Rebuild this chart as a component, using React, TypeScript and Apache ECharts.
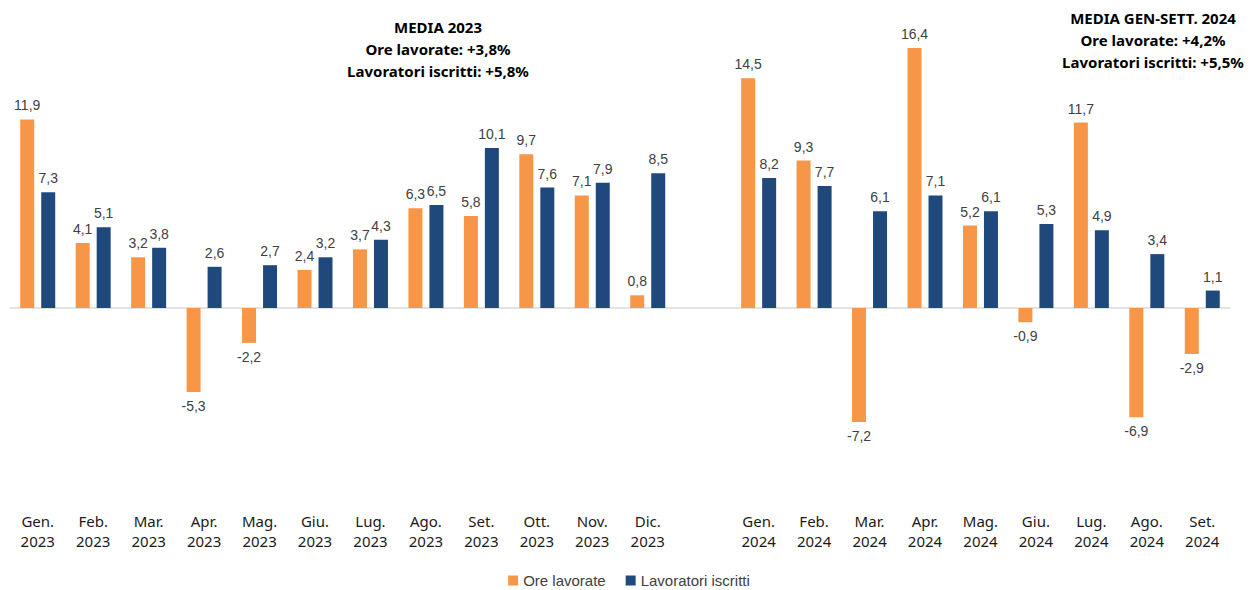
import React, { useEffect, useRef } from "react";
import * as echarts from "echarts";

const months2023 = ["Gen.", "Feb.", "Mar.", "Apr.", "Mag.", "Giu.", "Lug.", "Ago.", "Set.", "Ott.", "Nov.", "Dic."];
const months2024 = ["Gen.", "Feb.", "Mar.", "Apr.", "Mag.", "Giu.", "Lug.", "Ago.", "Set."];

const ore2023 = [11.9, 4.1, 3.2, -5.3, -2.2, 2.4, 3.7, 6.3, 5.8, 9.7, 7.1, 0.8];
const lav2023 = [7.3, 5.1, 3.8, 2.6, 2.7, 3.2, 4.3, 6.5, 10.1, 7.6, 7.9, 8.5];
const ore2024 = [14.5, 9.3, -7.2, 16.4, 5.2, -0.9, 11.7, -6.9, -2.9];
const lav2024 = [8.2, 7.7, 6.1, 7.1, 6.1, 5.3, 4.9, 3.4, 1.1];

const seriesNames = ["Ore lavorate", "Lavoratori iscritti"];
const note2023 = ["MEDIA 2023", "Ore lavorate: +3,8%", "Lavoratori iscritti: +5,8%"];
const note2024 = ["MEDIA GEN-SETT. 2024", "Ore lavorate: +4,2%", "Lavoratori iscritti: +5,5%"];

const categories = [
  ...months2023.map((m) => `${m}\n2023`),
  "",
  ...months2024.map((m) => `${m}\n2024`),
];

const fmt = (v: number) => v.toFixed(1).replace(".", ",");

function toData(a: number[], b: number[]) {
  const all: (number | null)[] = [...a, null, ...b];
  return all.map((v) =>
    v === null
      ? { value: null }
      : { value: v, label: { position: v < 0 ? "bottom" : "top" } }
  );
}

export default function App() {
  const ref = useRef<HTMLDivElement>(null);
  useEffect(() => {
    if (!ref.current) return;
    const chart = echarts.init(ref.current, null, { renderer: "svg" });
    const labelCfg = {
      show: true,
      distance: 7,
      color: "#404040",
      fontSize: 14,
      fontFamily: "Liberation Sans",
      formatter: (p: any) => (p.value == null ? "" : fmt(p.value)),
    };
    const note = (lines: string[], x: number, y: number) => ({
      type: "text",
      x,
      y,
      style: {
        text: lines.join("\n"),
        font: "bold 15px 'Noto Sans'",
        fill: "#000",
        align: "center",
        textAlign: "center",
        lineHeight: 22,
      },
    });
    chart.setOption({
      animation: false,
      grid: { left: 2, right: 20, top: 14.7, bottom: 89.8, containLabel: false },
      legend: {
        top: 560,
        left: "center",
        itemWidth: 10,
        itemHeight: 10,
        itemGap: 20,
        icon: "rect",
        textStyle: { color: "#404040", fontSize: 15, fontFamily: "Liberation Sans" },
        data: seriesNames,
      },
      xAxis: {
        type: "category",
        data: categories,
        axisTick: { show: false },
        axisLine: { show: true, onZero: true, lineStyle: { color: "#d9d9d9", width: 1.5 } },
        axisLabel: {
          interval: 0,
          color: "#1a1a1a",
          fontSize: 15,
          fontFamily: "Noto Sans",
          lineHeight: 20,
          margin: 13,
        },
      },
      yAxis: {
        type: "value",
        min: -12,
        max: 18,
        show: false,
        splitLine: { show: false },
      },
      graphic: [note(note2023, 430, 8), note(note2024, 1145, -1)],
      series: [
        {
          name: seriesNames[0],
          type: "bar",
          barWidth: 14,
          barGap: "50%",
          itemStyle: { color: "#F79646" },
          label: labelCfg,
          data: toData(ore2023, ore2024),
        },
        {
          name: seriesNames[1],
          type: "bar",
          barWidth: 14,
          barGap: "50%",
          itemStyle: { color: "#1F497D" },
          label: labelCfg,
          data: toData(lav2023, lav2024),
        },
      ],
    });
    return () => chart.dispose();
  }, []);
  return <div ref={ref} style={{ width: 1242, height: 580 }} />;
}
